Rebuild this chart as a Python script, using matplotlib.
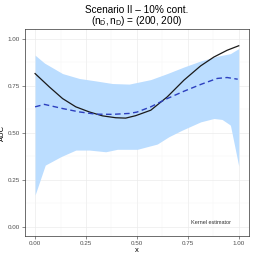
import numpy as np
import matplotlib.pyplot as plt
from matplotlib.ticker import MultipleLocator

plt.rcParams['font.family'] = ['Liberation Sans', 'DejaVu Sans']
plt.rcParams['mathtext.fontset'] = 'custom'
plt.rcParams['mathtext.rm'] = 'Liberation Sans'
plt.rcParams['mathtext.it'] = 'Liberation Sans'

# true AUC curve (solid black)
x_true = [0.00, 0.070, 0.135, 0.200, 0.266, 0.331, 0.396, 0.445, 0.494,
          0.568, 0.649, 0.731, 0.813, 0.878, 0.943, 1.00]
auc_true = [0.814, 0.743, 0.681, 0.637, 0.610, 0.589, 0.579, 0.577, 0.590,
            0.619, 0.690, 0.779, 0.855, 0.902, 0.938, 0.962]

# mean kernel estimate (dashed blue)
x_est = [0.00, 0.046, 0.135, 0.217, 0.298, 0.380, 0.462, 0.500,
         0.568, 0.649, 0.731, 0.813, 0.894, 0.943, 0.995]
auc_est = [0.637, 0.650, 0.628, 0.610, 0.598, 0.597, 0.602, 0.609,
           0.637, 0.681, 0.720, 0.756, 0.788, 0.793, 0.784]

# band limits
x_up = [0.00, 0.046, 0.135, 0.217, 0.298, 0.380, 0.462, 0.568,
        0.649, 0.731, 0.813, 0.894, 0.959, 1.00]
band_up = [0.912, 0.870, 0.814, 0.788, 0.775, 0.761, 0.758, 0.782,
           0.814, 0.849, 0.881, 0.906, 0.920, 0.947]
x_lo = [0.00, 0.050, 0.127, 0.200, 0.266, 0.347, 0.404, 0.502, 0.600,
        0.657, 0.722, 0.813, 0.878, 0.918, 0.959, 1.00]
band_lo = [0.168, 0.327, 0.372, 0.407, 0.407, 0.398, 0.411, 0.411, 0.439,
           0.478, 0.513, 0.557, 0.575, 0.570, 0.540, 0.322]

fig = plt.figure(figsize=(2.54, 2.54), dpi=100)
ax = fig.add_axes([0.098, 0.071, 0.882, 0.814])

xs = np.linspace(0, 1, 400)
ax.fill_between(xs, np.interp(xs, x_lo, band_lo), np.interp(xs, x_up, band_up),
                color='#bbddff', linewidth=0, zorder=2)
ax.plot(x_true, auc_true, color='#1a1a1a', linewidth=0.9, zorder=3,
        solid_joinstyle='round')
ax.plot(x_est, auc_est, color='#2c3fbf', linewidth=1.0, linestyle=(0, (4, 2.5)),
        zorder=3)

ax.text(0.863, 0.02, 'Kernel estimator', fontsize=4, color='#333333',
        ha='center', va='center')

ax.set_xlim(-0.05, 1.05)
ax.set_ylim(-0.05, 1.05)
ax.xaxis.set_major_locator(MultipleLocator(0.25))
ax.yaxis.set_major_locator(MultipleLocator(0.25))
ax.xaxis.set_minor_locator(MultipleLocator(0.125))
ax.yaxis.set_minor_locator(MultipleLocator(0.125))
ax.grid(True, which='major', color='#ebebeb', linewidth=0.5, zorder=0)
ax.grid(True, which='minor', color='#f3f3f3', linewidth=0.3, zorder=0)
ax.set_axisbelow(True)
ax.tick_params(which='major', labelsize=4.5, labelcolor='#4d4d4d', color='#333333',
               length=2, width=0.4, pad=1.5)
ax.tick_params(which='minor', length=0)
ax.xaxis.set_major_formatter(plt.FuncFormatter(lambda v, p: f'{v:.2f}'))
ax.yaxis.set_major_formatter(plt.FuncFormatter(lambda v, p: f'{v:.2f}'))
for s in ax.spines.values():
    s.set_color('#333333')
    s.set_linewidth(0.5)

ax.set_xlabel('x', fontsize=5.5, labelpad=1)
ax.set_ylabel('AUC', fontsize=5.5)
ax.yaxis.set_label_coords(-0.085, 0.5)
fig.text(0.54, 0.96, 'Scenario II \u2013 10% cont.', ha='center', va='center', fontsize=7.2)
fig.text(0.54, 0.916, r'$(n_{\bar{D}}, n_D)$ = (200, 200)', ha='center', va='center',
         fontsize=7.2)

fig.savefig('out.png', dpi=100)
